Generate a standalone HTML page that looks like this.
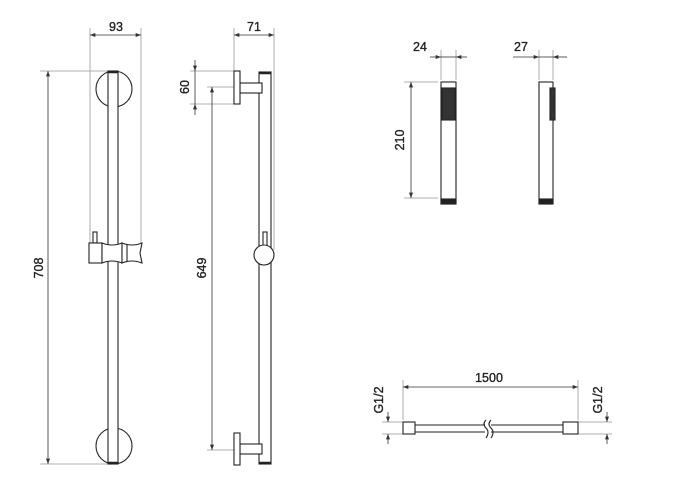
<!DOCTYPE html>
<html><head><meta charset="utf-8"><style>
html,body{margin:0;padding:0;background:#fff;}
svg{display:block;}
text{font-family:"Liberation Sans",Arial,sans-serif;font-size:12.5px;fill:#222;stroke:#222;stroke-width:0.35;}
</style></head><body>
<svg width="695" height="480" viewBox="0 0 695 480" xmlns="http://www.w3.org/2000/svg">
<defs>
<marker id="a" viewBox="0 0 8 6" refX="8" refY="3" markerWidth="7" markerHeight="5" orient="auto-start-reverse"><path d="M0,0 L8,3 L0,6 z" fill="#333"/></marker>
</defs>
<g stroke="#999" stroke-width="0.8" fill="none">
<line x1="90" y1="28" x2="90" y2="243"/><line x1="141" y1="28" x2="141" y2="243"/>
<line x1="40" y1="71" x2="112" y2="71"/><line x1="40" y1="464" x2="112" y2="464"/>
<line x1="234" y1="28" x2="234" y2="72"/><line x1="274" y1="28" x2="274" y2="250"/>
<line x1="190" y1="71" x2="234" y2="71"/><line x1="190" y1="104" x2="234" y2="104"/>
<line x1="207" y1="87" x2="250" y2="87"/><line x1="207" y1="450" x2="240" y2="450"/>
<line x1="441" y1="50" x2="441" y2="80"/><line x1="456" y1="50" x2="456" y2="80"/>
<line x1="539" y1="50" x2="539" y2="80"/><line x1="553" y1="50" x2="553" y2="80"/>
<line x1="404" y1="82" x2="438" y2="82"/><line x1="404" y1="198" x2="438" y2="198"/>
<line x1="403" y1="380" x2="403" y2="420"/><line x1="578" y1="380" x2="578" y2="420"/>
<line x1="382" y1="422" x2="403" y2="422"/><line x1="382" y1="434" x2="403" y2="434"/>
<line x1="578" y1="422" x2="612" y2="422"/><line x1="578" y1="434" x2="612" y2="434"/>
</g>
<g stroke="#333" stroke-width="0.8" fill="none">
<line x1="90" y1="35" x2="141" y2="35" marker-start="url(#a)" marker-end="url(#a)"/>
<line x1="48" y1="71" x2="48" y2="464" marker-start="url(#a)" marker-end="url(#a)"/>
<line x1="234" y1="35" x2="274" y2="35" marker-start="url(#a)" marker-end="url(#a)"/>
<line x1="195" y1="60" x2="195" y2="71" marker-end="url(#a)"/><line x1="195" y1="71" x2="195" y2="104"/><line x1="195" y1="115" x2="195" y2="104" marker-end="url(#a)"/>
<line x1="212" y1="87" x2="212" y2="450" marker-start="url(#a)" marker-end="url(#a)"/>
<line x1="430" y1="57" x2="441" y2="57" marker-end="url(#a)"/><line x1="441" y1="57" x2="456" y2="57"/><line x1="467" y1="57" x2="456" y2="57" marker-end="url(#a)"/>
<line x1="513" y1="57" x2="539" y2="57" marker-end="url(#a)"/><line x1="539" y1="57" x2="553" y2="57"/><line x1="567" y1="57" x2="553" y2="57" marker-end="url(#a)"/>
<line x1="411" y1="82" x2="411" y2="198" marker-start="url(#a)" marker-end="url(#a)"/>
<line x1="403" y1="387" x2="578" y2="387" marker-start="url(#a)" marker-end="url(#a)"/>
<line x1="388" y1="412" x2="388" y2="422" marker-end="url(#a)"/><line x1="388" y1="444" x2="388" y2="434" marker-end="url(#a)"/>
<line x1="607" y1="412" x2="607" y2="422" marker-end="url(#a)"/><line x1="607" y1="444" x2="607" y2="434" marker-end="url(#a)"/>
</g>
<g stroke="#222" stroke-width="1.1" fill="#fff">
<circle cx="114" cy="89" r="18"/>
<circle cx="114" cy="446" r="18"/>
<rect x="108" y="71" width="10" height="393"/>
<line x1="108" y1="72" x2="118" y2="72" stroke-width="2.5"/>
<line x1="108" y1="463" x2="118" y2="463" stroke-width="2.5"/>
<rect x="93" y="232" width="4" height="11"/>
<rect x="89" y="243" width="13" height="20"/>
<path d="M102,243 Q112,247 122,243 L122,263 Q112,259 102,263 Z"/>
<path d="M122,243 Q132,247 142,243 L140,253 L142,263 Q132,259 122,263 Z"/>
<line x1="127" y1="244" x2="127" y2="262"/>
</g>
<g stroke="#222" stroke-width="1.1" fill="#fff">
<rect x="259" y="72" width="12" height="392"/>
<line x1="259" y1="73" x2="271" y2="73" stroke-width="2.5"/>
<line x1="259" y1="463" x2="271" y2="463" stroke-width="2.5"/>
<rect x="240" y="83" width="22" height="10"/>
<rect x="234" y="71" width="6" height="33"/>
<rect x="240" y="444" width="22" height="10"/>
<rect x="234" y="433" width="6" height="32"/>
<rect x="263" y="232" width="4" height="14"/>
<circle cx="264" cy="255" r="10"/>
</g>
<g stroke="#222" stroke-width="1.1" fill="#fff">
<rect x="441" y="82" width="15" height="122"/>
<rect x="442" y="88" width="13" height="32" fill="#333"/>
<rect x="441" y="199" width="15" height="5" fill="#222"/>
<rect x="539" y="82" width="14" height="122"/>
<rect x="550" y="88" width="5" height="32" fill="#333"/>
<rect x="539" y="199" width="14" height="5" fill="#222"/>
</g>
<g stroke="#222" stroke-width="1.1" fill="#fff">
<line x1="415" y1="425" x2="485" y2="425"/><line x1="415" y1="432" x2="485" y2="432"/>
<line x1="491" y1="425" x2="563" y2="425"/><line x1="491" y1="432" x2="563" y2="432"/>
<path d="M486,420 q-4,4 0,8 q4,4 0,10" fill="none"/>
<path d="M491,420 q-4,4 0,8 q4,4 0,10" fill="none"/>
<rect x="403" y="422" width="12" height="12"/>
<rect x="563" y="422" width="15" height="12"/>
</g>
<g>
<text x="116" y="31" text-anchor="middle">93</text>
<text x="254" y="31" text-anchor="middle">71</text>
<text transform="translate(43,268) rotate(-90)" text-anchor="middle">708</text>
<text transform="translate(189,87) rotate(-90)" text-anchor="middle">60</text>
<text transform="translate(206,268) rotate(-90)" text-anchor="middle">649</text>
<text x="420" y="51" text-anchor="middle">24</text>
<text x="521" y="51" text-anchor="middle">27</text>
<text transform="translate(404,140) rotate(-90)" text-anchor="middle">210</text>
<text x="489" y="382" text-anchor="middle">1500</text>
<text transform="translate(383,400) rotate(-90)" text-anchor="middle">G1/2</text>
<text transform="translate(602,400) rotate(-90)" text-anchor="middle">G1/2</text>
</g>
</svg>
</body></html>
